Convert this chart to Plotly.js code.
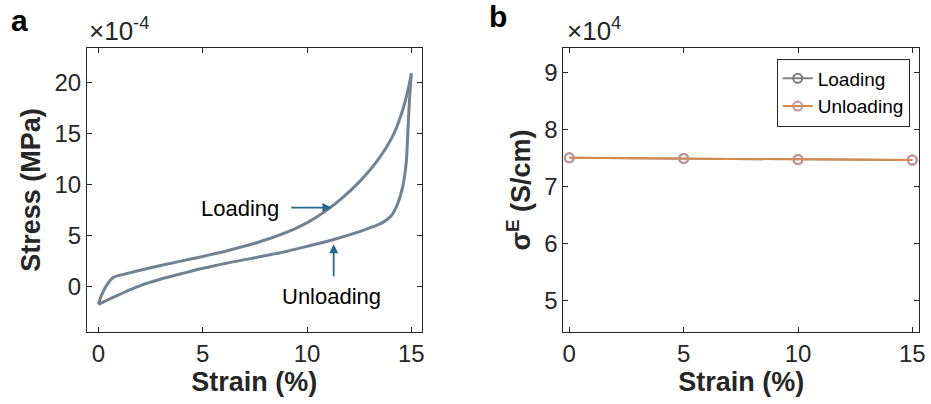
<!DOCTYPE html>
<html>
<head>
<meta charset="utf-8">
<script src="https://cdn.plot.ly/plotly-3.0.1.min.js"></script>
<style>html,body{margin:0;padding:0;background:#fff;}#chart{width:931px;height:404px;}</style>
</head>
<body>
<div id="chart"></div>
<script>
// Panel a: stress-strain loop (stress in units of 1e-4 MPa)
const loadStrain   = [0, 0.13, 0.37, 0.69, 1.33, 2.93, 4.53, 6.13, 7.73, 9.33, 10.12, 10.92, 11.72, 12.52, 13.32, 14.12, 14.6, 14.92, 15.0];
const loadStress   = [-1.74, -0.92, 0.06, 0.88, 1.27, 2.05, 2.75, 3.5, 4.4, 5.6, 6.4, 7.45, 8.75, 10.3, 12.2, 14.8, 17.4, 20.0, 20.9];
const unloadStrain = [15.0, 14.92, 14.84, 14.76, 14.6, 14.36, 14.04, 13.64, 13.2, 12.52, 11.24, 10.0, 9.0, 7.73, 6.13, 5.0, 4.0, 2.93, 2.0, 1.5, 1.0, 0.5, 0];
const unloadStress = [20.9, 18.5, 15.4, 12.2, 9.9, 8.2, 6.95, 6.3, 5.9, 5.4, 4.6, 3.95, 3.45, 2.92, 2.3, 1.8, 1.28, 0.7, 0.1, -0.32, -0.78, -1.25, -1.74];

// Panel b: conductivity (units of 1e4 S/cm)
const strainB      = [0, 5, 10, 15];
const sigmaLoad    = [7.50, 7.49, 7.47, 7.46];
const sigmaUnload  = [7.50, 7.49, 7.47, 7.46];

const ticksA_x = [0, 5, 10, 15];
const ticksA_y = [0, 5, 10, 15, 20];
const ticksB_y = [5, 6, 7, 8, 9];

const FONT = 'Liberation Sans, Arial, sans-serif';
const AX = '#262626';
const tickFont = {family: FONT, size: 24, color: AX};
const titleFont = {family: FONT, size: 27, color: AX};

const traces = [
  {x: loadStrain, y: loadStress, type: 'scatter', mode: 'lines', xaxis: 'x', yaxis: 'y',
   line: {color: '#6f8392', width: 3, shape: 'spline', smoothing: 0.8}, showlegend: false},
  {x: unloadStrain, y: unloadStress, type: 'scatter', mode: 'lines', xaxis: 'x', yaxis: 'y',
   line: {color: '#6f8392', width: 3, shape: 'spline', smoothing: 0.8}, showlegend: false},
  {x: strainB, y: sigmaLoad, type: 'scatter', mode: 'lines+markers', name: 'Loading', xaxis: 'x2', yaxis: 'y2',
   line: {color: '#808080', width: 2}, marker: {symbol: 'circle-open', size: 9, color: '#7a7a7a', line: {width: 2, color: '#7a7a7a'}}},
  {x: strainB, y: sigmaUnload, type: 'scatter', mode: 'lines+markers', name: 'Unloading', xaxis: 'x2', yaxis: 'y2',
   line: {color: '#d98a4a', width: 2}, marker: {symbol: 'circle-open', size: 9, color: '#c79393', line: {width: 2, color: '#c79393'}}}
];

function axisCommon(extra) {
  return Object.assign({
    showline: true, linecolor: AX, linewidth: 1, mirror: 'allticks',
    ticks: 'inside', ticklen: 5, tickcolor: AX, tickwidth: 1,
    showgrid: false, zeroline: false, tickfont: tickFont
  }, extra);
}

const layout = {
  width: 931, height: 404,
  margin: {l: 87, r: 12, t: 47.5, b: 72},
  paper_bgcolor: '#fff', plot_bgcolor: '#fff',
  font: {family: FONT, color: AX},
  xaxis: axisCommon({domain: [0, 0.4023], range: [-0.55, 15.5], tickvals: ticksA_x, anchor: 'y',
    title: {text: '<b>Strain (%)</b>', font: titleFont, standoff: 0}}),
  yaxis: axisCommon({domain: [0, 1], range: [-4.45, 23.4], tickvals: ticksA_y, anchor: 'x',
    title: {text: '<b>Stress (MPa)</b>', font: titleFont, standoff: 6}}),
  xaxis2: axisCommon({domain: [0.5725, 1], range: [-0.26, 15.29], tickvals: ticksA_x, anchor: 'y2',
    title: {text: '<b>Strain (%)</b>', font: titleFont, standoff: 0}}),
  yaxis2: axisCommon({domain: [0, 1], range: [4.44, 9.43], tickvals: ticksB_y, anchor: 'x2',
    title: {text: '<b>σ<sup>E</sup> (S/cm)</b>', font: titleFont, standoff: 5}}),
  legend: {x: 0.829, y: 0.963, xanchor: 'left', yanchor: 'top', bgcolor: '#fff',
    bordercolor: AX, borderwidth: 1, font: {family: FONT, size: 19, color: '#000'},
    itemwidth: 30, tracegroupgap: 0},
  annotations: [
    {text: '<b>a</b>', xref: 'paper', yref: 'paper', x: -0.094, y: 1.097, xanchor: 'left', yanchor: 'middle',
     showarrow: false, font: {family: FONT, size: 30, color: '#000'}},
    {text: '<b>b</b>', xref: 'paper', yref: 'paper', x: 0.4808, y: 1.11, xanchor: 'left', yanchor: 'middle',
     showarrow: false, font: {family: FONT, size: 30, color: '#000'}},
    {text: '×10<sup>-4</sup>', xref: 'paper', yref: 'paper', x: 0.0, y: 1.0, xanchor: 'left', yanchor: 'bottom',
     showarrow: false, font: {family: FONT, size: 26, color: AX}},
    {text: '×10<sup>4</sup>', xref: 'paper', yref: 'paper', x: 0.5745, y: 1.0, xanchor: 'left', yanchor: 'bottom',
     showarrow: false, font: {family: FONT, size: 26, color: AX}},
    {text: 'Loading', xref: 'x', yref: 'y', x: 6.8, y: 7.7, showarrow: false,
     font: {family: FONT, size: 22, color: '#000'}},
    {text: 'Unloading', xref: 'x', yref: 'y', x: 11.15, y: -0.92, showarrow: false,
     font: {family: FONT, size: 22, color: '#000'}},
    {text: '', xref: 'x', yref: 'y', x: 11.17, y: 7.75, axref: 'x', ayref: 'y', ax: 9.17, ay: 7.75,
     showarrow: true, arrowhead: 2, arrowsize: 1, arrowwidth: 1.8, arrowcolor: '#256a8a'},
    {text: '', xref: 'x', yref: 'y', x: 11.28, y: 4.15, axref: 'x', ayref: 'y', ax: 11.28, ay: 0.88,
     showarrow: true, arrowhead: 2, arrowsize: 1, arrowwidth: 1.8, arrowcolor: '#256a8a'}
  ]
};

Plotly.newPlot('chart', traces, layout, {displayModeBar: false, staticPlot: true});
</script>
</body>
</html>
